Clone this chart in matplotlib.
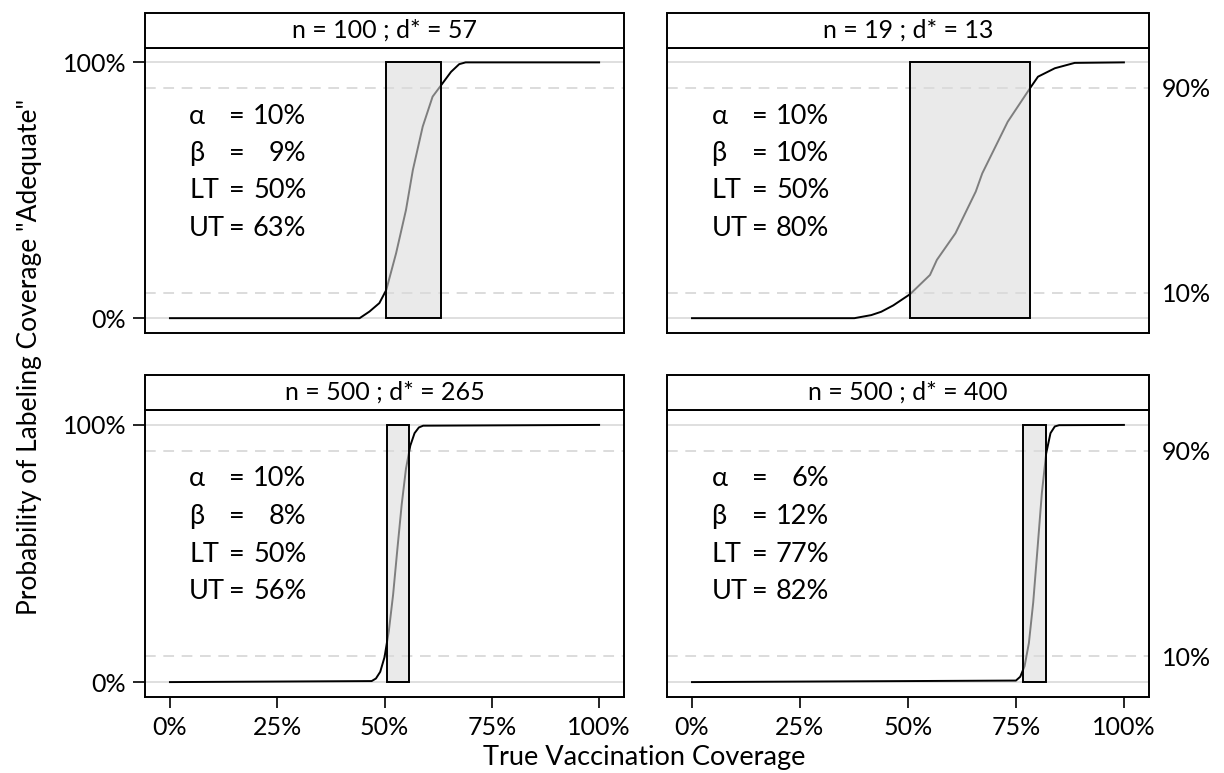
import matplotlib
matplotlib.use("Agg")
import matplotlib.pyplot as plt
from matplotlib.patches import Rectangle

plt.rcParams["font.family"] = ["Lato", "DejaVu Sans"]

# ── Data ───────────────────────────────────────────────────────
TITLES = ["n = 100 ; d* = 57", "n = 19 ; d* = 13",
          "n = 500 ; d* = 265", "n = 500 ; d* = 400"]

COV1 = [0.0, 0.442, 0.465, 0.488, 0.504, 0.527, 0.550, 0.566, 0.589,
        0.612, 0.632, 0.655, 0.674, 0.689, 1.0]
PROB1 = [0.0, 0.0, 0.026, 0.059, 0.11, 0.254, 0.423, 0.579, 0.749,
         0.866, 0.911, 0.963, 0.993, 1.0, 1.0]

COV2 = [0.0, 0.376, 0.415, 0.438, 0.466, 0.505, 0.551, 0.567, 0.610,
        0.657, 0.672, 0.731, 0.783, 0.801, 0.840, 0.886, 1.0]
PROB2 = [0.0, 0.0, 0.012, 0.025, 0.05, 0.094, 0.169, 0.228, 0.332,
         0.495, 0.566, 0.768, 0.90, 0.944, 0.977, 0.998, 1.0]

COV3 = [0.0, 0.47, 0.48, 0.49, 0.50, 0.51, 0.52, 0.53, 0.54, 0.55,
        0.56, 0.57, 0.58, 0.59, 1.0]
PROB3 = [0.0, 0.004, 0.014, 0.04, 0.097, 0.198, 0.34, 0.518, 0.69, 0.83,
         0.919, 0.968, 0.99, 0.997, 1.0]

COV4 = [0.0, 0.75, 0.76, 0.77, 0.78, 0.79, 0.80, 0.81, 0.82, 0.83,
        0.84, 0.85, 1.0]
PROB4 = [0.0, 0.006, 0.021, 0.062, 0.152, 0.31, 0.52, 0.735, 0.889, 0.968,
         0.994, 0.999, 1.0]

BOX_LO = [0.504, 0.505, 0.505, 0.766]
BOX_HI = [0.632, 0.783, 0.558, 0.820]

ALPHA = ["10%", "10%", "10%", "6%"]
BETA = ["9%", "10%", "8%", "12%"]
LT = ["50%", "50%", "50%", "77%"]
UT = ["63%", "80%", "56%", "82%"]

X_TICKS = [0, 0.25, 0.5, 0.75, 1.0]
X_TICKLABELS = ["0%", "25%", "50%", "75%", "100%"]

# ── Layout ─────────────────────────────────────────────────────
FS = 18
FS_NOTE = 19.5
LEFTS = [0.1185, 0.5449]
WIDTHS = [0.3913, 0.3938]
BOTTOMS = [0.5692, 0.0983]
HEIGHTS = [0.3693, 0.3713]
HDR = 0.1226

fig = plt.figure(figsize=(12.24, 7.73), dpi=100)

curves = [(COV1, PROB1), (COV2, PROB2), (COV3, PROB3), (COV4, PROB4)]

for i, (cov, prob) in enumerate(curves):
    row, col = divmod(i, 2)
    ax = fig.add_axes([LEFTS[col], BOTTOMS[row], WIDTHS[col], HEIGHTS[row]])
    ax.set_xlim(-0.058, 1.058)
    ax.set_ylim(-0.058, 1.058)

    # reference lines
    for y in (0.0, 1.0):
        ax.axhline(y, color="#dcdcdc", lw=1.3, zorder=1)
    for y in (0.1, 0.9):
        ax.axhline(y, color="#d2d2d2", lw=1.1, ls=(0, (7, 5)), zorder=1)

    ax.plot(cov, prob, color="black", lw=1.4, zorder=2)

    # LT–UT band, semi-transparent so the curve shows grey inside
    ax.add_patch(Rectangle((BOX_LO[i], 0.0), BOX_HI[i] - BOX_LO[i], 1.0,
                           facecolor=(0.86, 0.86, 0.86, 0.58),
                           edgecolor="black", lw=1.4, zorder=3))

    # parameter block
    rows = [("α", ALPHA[i]), ("β", BETA[i]), ("LT", LT[i]), ("UT", UT[i])]
    for k, (name, val) in enumerate(rows):
        y = 0.79 - k * 0.146
        ax.text(0.045, y, name, fontsize=FS_NOTE, ha="left", va="center")
        ax.text(0.138, y, "=", fontsize=FS_NOTE, ha="left", va="center")
        ax.text(0.318, y, val, fontsize=FS_NOTE, ha="right", va="center")

    # header strip
    ax.add_patch(Rectangle((0, 1), 1, HDR, transform=ax.transAxes,
                           facecolor="white", edgecolor="black", lw=1.4,
                           clip_on=False, zorder=5))
    ax.text(0.5, 1 + HDR / 2, TITLES[i], transform=ax.transAxes,
            fontsize=FS, ha="center", va="center", zorder=6)

    for s in ax.spines.values():
        s.set_linewidth(1.4)
        s.set_color("black")

    if row == 1:
        ax.set_xticks(X_TICKS)
        ax.set_xticklabels(X_TICKLABELS, fontsize=FS)
        ax.tick_params(axis="x", length=8, width=1.2, pad=6)
    else:
        ax.set_xticks([])

    if col == 0:
        ax.set_yticks([0, 1])
        ax.set_yticklabels(["0%", "100%"], fontsize=FS)
        ax.tick_params(axis="y", length=8.5, width=1.2, pad=5)
    else:
        ax.yaxis.tick_right()
        ax.set_yticks([0.1, 0.9])
        ax.set_yticklabels(["10%", "90%"], fontsize=FS)
        ax.tick_params(axis="y", length=0, pad=9)

fig.text(0.024, 0.538, 'Probability of Labeling Coverage "Adequate"',
         rotation=90, fontsize=19, ha="center", va="center")
fig.text(0.526, 0.004, "True Vaccination Coverage", fontsize=19.5,
         ha="center", va="bottom")

fig.savefig("out.png", dpi=100)
